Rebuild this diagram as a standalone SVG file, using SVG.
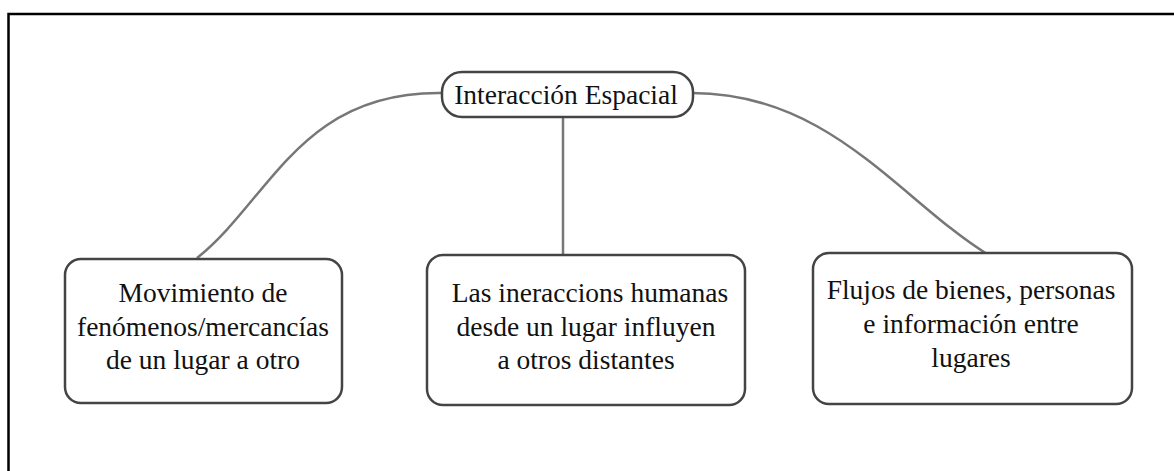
<svg xmlns="http://www.w3.org/2000/svg" width="1174" height="471" viewBox="0 0 1174 471">
<style>
.frame{fill:none;stroke:#000;stroke-width:2.5}
.box{fill:#fff;stroke:#444;stroke-width:2.5}
.conn{fill:none;stroke:#777;stroke-width:2.5}
.t{font-family:'Liberation Serif','Times New Roman',Times,'DejaVu Serif',serif;font-size:27.5px;fill:#111;text-anchor:middle}
</style>
<rect width="1174" height="471" fill="#fff"/>
<rect class="frame" x="8.5" y="14" width="1180" height="470"/>
<g id="connectors">
<path class="conn" d="M442,93 C300,91 270,200 197,258"/>
<path class="conn" d="M563,117 L563,255"/>
<path class="conn" d="M692,93 C830,93 900,200 987,254"/>
</g>
<g id="root">
<rect class="box" x="442" y="72" width="251" height="45" rx="20"/>
<text class="t" x="566" y="104">Interacción Espacial</text>
</g>
<g id="n1">
<rect class="box" x="65" y="259" width="277" height="144" rx="16"/>
<text class="t" x="203" y="302">Movimiento de</text>
<text class="t" x="203" y="335.5">fenómenos/mercancías</text>
<text class="t" x="203" y="369">de un lugar a otro</text>
</g>
<g id="n2">
<rect class="box" x="427" y="255" width="318" height="150" rx="16"/>
<text class="t" x="590" y="302">Las ineraccions humanas</text>
<text class="t" x="586" y="335.5">desde un lugar influyen</text>
<text class="t" x="586" y="369">a otros distantes</text>
</g>
<g id="n3">
<rect class="box" x="813" y="253" width="319" height="151" rx="16"/>
<text class="t" x="971" y="299">Flujos de bienes, personas</text>
<text class="t" x="971" y="333">e información entre</text>
<text class="t" x="971" y="367">lugares</text>
</g>
</svg>
